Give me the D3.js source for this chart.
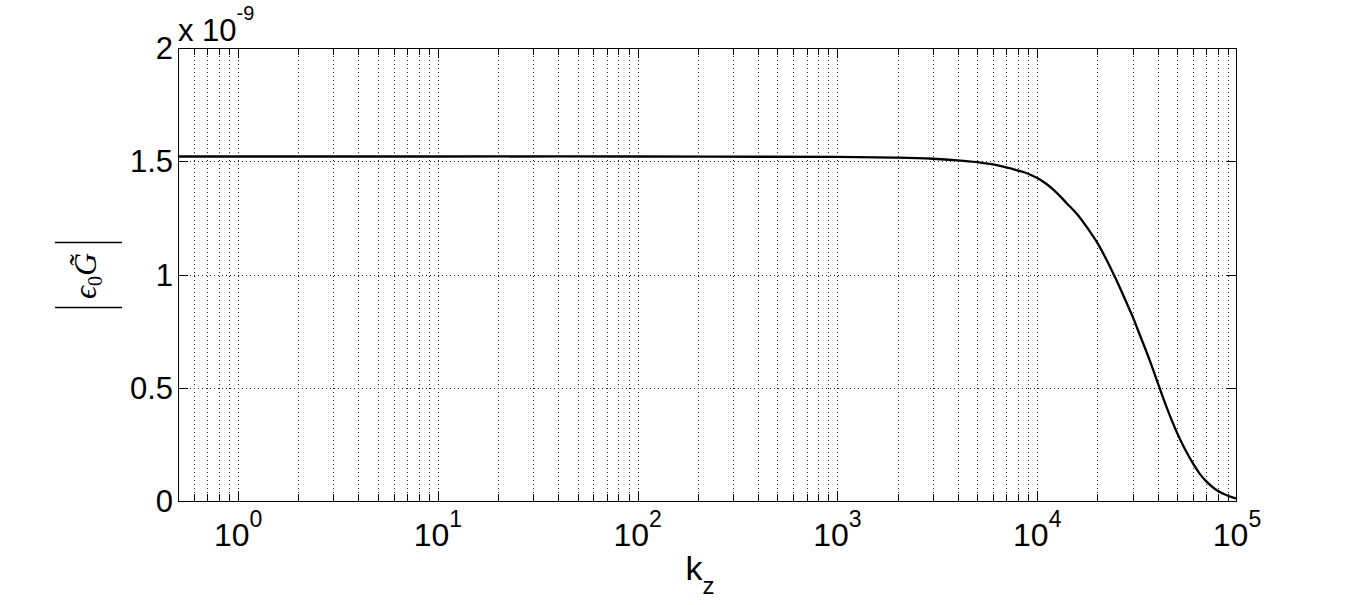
<!DOCTYPE html>
<html>
<head>
<meta charset="utf-8">
<script src="https://cdn.jsdelivr.net/npm/d3@7"></script>
<style>
  html, body { margin: 0; padding: 0; background: #fff; }
  svg { display: block; }
</style>
</head>
<body>
<svg id="chart" width="1367" height="605"></svg>
<script>
// ---- data (values in units of 1e-9) ----
const kz = [0.5, 1, 10, 100, 1000, 2000, 3000, 4000, 5000, 6000, 7000, 8000, 9000, 10000,
            11000, 12000, 13000, 14000, 16000, 18000, 20000, 22000, 25000, 28000, 30000, 33000, 36000,
            40000, 45000, 50000, 55000, 60000, 65000, 70000, 80000, 90000, 100000];
const absG = [1.521, 1.521, 1.521, 1.521, 1.519, 1.516, 1.511, 1.504, 1.496, 1.486, 1.473, 1.459, 1.445, 1.426,
              1.403, 1.376, 1.346, 1.316, 1.262, 1.200, 1.140, 1.073, 0.972, 0.875, 0.815, 0.722, 0.637,
              0.525, 0.401, 0.303, 0.227, 0.168, 0.121, 0.088, 0.045, 0.023, 0.010];
const xDomain = [0.5, 1e5];
const yDomain = [0, 2];
const xMajorExponents = [0, 1, 2, 3, 4, 5];
const yTicks = [0, 0.5, 1, 1.5, 2];
const yTickLabels = ["0", "0.5", "1", "1.5", "2"];
const yExponent = "-9";

// ---- layout ----
const svg = d3.select("#chart");
const L = 178, R = 1237, T = 48, B = 501;
const x = d3.scaleLog().domain(xDomain).range([L, R]);
const y = d3.scaleLinear().domain(yDomain).range([B, T]);

// minor/major positions on the log axis
const xAll = [];
for (let d = -1; d <= 5; d++) {
  for (let m = 1; m <= 9; m++) {
    const v = m * Math.pow(10, d);
    if (v >= xDomain[0] * 1.0001 && v <= xDomain[1] * 0.9999) xAll.push({v, major: m === 1});
  }
}

// grid
const grid = svg.append("g").attr("stroke", "#000").attr("stroke-width", 1)
  .attr("stroke-dasharray", "1,3").attr("shape-rendering", "crispEdges").attr("opacity", 0.85);
grid.selectAll("line.gx").data(xAll).join("line").attr("class", "gx")
  .attr("x1", d => Math.round(x(d.v)) + 0.5).attr("x2", d => Math.round(x(d.v)) + 0.5)
  .attr("y1", T).attr("y2", B);
grid.selectAll("line.gy").data(yTicks.filter(v => v > yDomain[0] && v < yDomain[1])).join("line").attr("class", "gy")
  .attr("x1", L).attr("x2", R)
  .attr("y1", d => Math.round(y(d)) + 0.5).attr("y2", d => Math.round(y(d)) + 0.5);

// ticks (inside, on all four sides)
const ticks = svg.append("g").attr("stroke", "#000").attr("stroke-width", 1).attr("shape-rendering", "crispEdges");
xAll.forEach(d => {
  const px = Math.round(x(d.v)) + 0.5;
  const len = d.major ? 10 : 7;
  ticks.append("line").attr("x1", px).attr("x2", px).attr("y1", B).attr("y2", B - len);
  ticks.append("line").attr("x1", px).attr("x2", px).attr("y1", T).attr("y2", T + len);
});
yTicks.forEach(v => {
  const py = Math.round(y(v)) + 0.5;
  ticks.append("line").attr("x1", L).attr("x2", L + 10).attr("y1", py).attr("y2", py);
  ticks.append("line").attr("x1", R).attr("x2", R - 10).attr("y1", py).attr("y2", py);
});

// curve
const line = d3.line().x((d, i) => x(kz[i])).y(d => y(d)).curve(d3.curveCatmullRom.alpha(0.5));
svg.append("path").datum(absG).attr("d", line)
  .attr("fill", "none").attr("stroke", "#000").attr("stroke-width", 2.3);

// box
svg.append("rect").attr("x", L + 0.5).attr("y", T + 0.5).attr("width", R - L - 1).attr("height", B - T)
  .attr("fill", "none").attr("stroke", "#000").attr("stroke-width", 1).attr("shape-rendering", "crispEdges");

const font = "'Liberation Sans', Arial, Helvetica, sans-serif";

// y tick labels
svg.append("g").selectAll("text").data(yTicks).join("text")
  .attr("x", 173).attr("y", d => y(d)).attr("dy", "0.36em")
  .attr("text-anchor", "end").attr("font-family", font).attr("font-size", 31)
  .text((d, i) => yTickLabels[i]);

// exponent label
const ex = svg.append("text").attr("x", 178).attr("y", 41).attr("font-family", font).attr("font-size", 31);
ex.append("tspan").text("x 10");
ex.append("tspan").attr("font-size", 20).attr("dy", -21).text(yExponent);

// x tick labels
xMajorExponents.forEach(e => {
  const t = svg.append("text").attr("x", x(Math.pow(10, e))).attr("y", 546)
    .attr("text-anchor", "middle").attr("font-family", font).attr("font-size", 32);
  t.append("tspan").text("10");
  t.append("tspan").attr("font-size", 23).attr("dy", -19).text(String(e));
});

// x label
const xl = svg.append("text").attr("x", 700).attr("y", 580).attr("text-anchor", "middle")
  .attr("font-family", font).attr("font-size", 34);
xl.append("tspan").text("k");
xl.append("tspan").attr("font-size", 24).attr("dy", 14).text("z");

// y label  |ϵ0 G̃|
const serif = "'Liberation Serif', 'DejaVu Serif', serif";
svg.append("line").attr("x1", 55).attr("x2", 122).attr("y1", 242.5).attr("y2", 242.5).attr("stroke", "#000").attr("stroke-width", 1.6);
svg.append("line").attr("x1", 55).attr("x2", 122).attr("y1", 307.5).attr("y2", 307.5).attr("stroke", "#000").attr("stroke-width", 1.6);
const yl = svg.append("text").attr("transform", "translate(96,276) rotate(-90)")
  .attr("text-anchor", "middle").attr("font-family", serif).attr("font-size", 32).attr("font-style", "italic");
yl.append("tspan").text("\u03F5");
yl.append("tspan").attr("font-size", 20).attr("font-style", "normal").attr("dy", 6).text("0");
yl.append("tspan").attr("dy", -6).text("G\u0303");
</script>
</body>
</html>
